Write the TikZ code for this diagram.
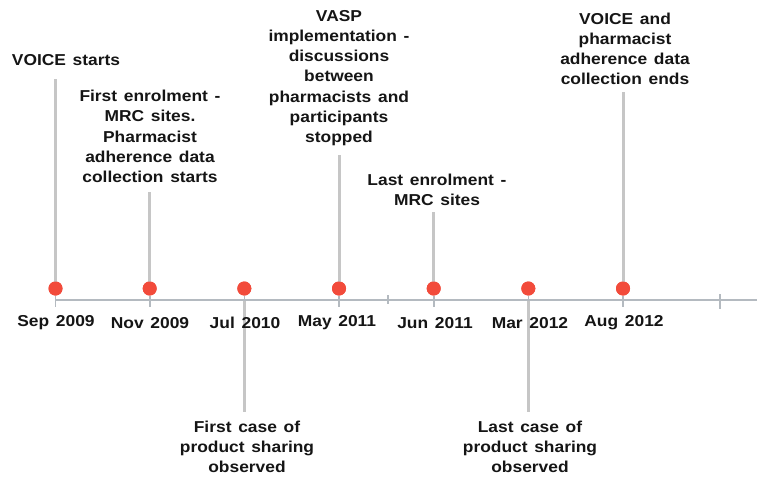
\documentclass[tikz,border=0pt]{standalone}
\usepackage{fontspec}
\setmainfont{Liberation Sans}[FakeStretch=1.1,WordSpace=1.4]
\definecolor{dotred}{HTML}{F24B3B}
\definecolor{stem}{HTML}{C6C6C6}
\definecolor{axisc}{HTML}{B4BAC0}
\definecolor{txt}{HTML}{151515}
\begin{document}
\begin{tikzpicture}[x=1pt,y=-1pt,
  evtext/.style={align=center,inner sep=0pt,text=txt,font=\fontsize{15.8}{20.2}\selectfont\bfseries},
  datetext/.style={inner sep=0pt,text=txt,font=\fontsize{15.8}{20.2}\selectfont\bfseries},
  evdot/.style={circle,fill=dotred,minimum size=14pt,inner sep=0pt},
  stemline/.style={draw=stem,line width=3pt},
  axisline/.style={draw=axisc,line width=1.2pt},
  tickline/.style={draw=axisc,line width=1.6pt}]
\useasboundingbox (0,0) rectangle (757,487);
\fill[white] (0,0) rectangle (757,487);
% axis
\coordinate (ax0) at (55.5,300);
\coordinate (ax1) at (757,300);
\draw[axisline] (ax0) -- (ax1);
% ticks
\foreach \x/\n in {55.5/a,149.7/b,244.3/c,339/d,433.7/e,528.3/f,623/g}{
  \coordinate (tk\n1) at (\x,296);
  \coordinate (tk\n2) at (\x,307);
  \draw[tickline] (tk\n1) -- (tk\n2);
}
\coordinate (mt1) at (388,295); \coordinate (mt2) at (388,304);
\draw[axisline] (mt1) -- (mt2);
\coordinate (et1) at (720,294); \coordinate (et2) at (720,309);
\draw[axisline] (et1) -- (et2);
% stems (top)
\coordinate (s1) at (55.5,79);
\coordinate (s2) at (149.7,192);
\coordinate (s4) at (339,155);
\coordinate (s5) at (433.7,212);
\coordinate (s7) at (623,92);
% stems bottom
\coordinate (b3a) at (244.3,301);
\coordinate (b3) at (244.3,412);
\coordinate (b6a) at (528.3,301);
\coordinate (b6) at (528.3,412);
% dots
\node[evdot] (d1) at (55.5,288.5) {};
\node[evdot] (d2) at (149.7,288.5) {};
\node[evdot] (d3) at (244.3,288.5) {};
\node[evdot] (d4) at (339,288.5) {};
\node[evdot] (d5) at (433.7,288.5) {};
\node[evdot] (d6) at (528.3,288.5) {};
\node[evdot] (d7) at (623,288.5) {};
\draw[stemline] (s1) -- (d1.center);
\draw[stemline] (s2) -- (d2.center);
\draw[stemline] (s4) -- (d4.center);
\draw[stemline] (s5) -- (d5.center);
\draw[stemline] (s7) -- (d7.center);
\draw[stemline] (b3a) -- (b3);
\draw[stemline] (b6a) -- (b6);
% redraw dots over stems
\foreach \n in {d1,d2,d3,d4,d5,d6,d7}{\fill[dotred] (\n.center) circle (7pt);}
% event labels
\node[evtext] (l1) at (66,60) {VOICE starts};
\node[evtext] (l2) at (150,136.5) {First enrolment -\\MRC sites.\\Pharmacist\\adherence data\\collection starts};
\node[evtext] (l4) at (339,78) {VASP\\implementation -\\discussions\\between\\pharmacists and\\participants\\stopped};
\node[evtext] (l5) at (437,190) {Last enrolment -\\MRC sites};
\node[evtext] (l7) at (625,49) {VOICE and\\pharmacist\\adherence data\\collection ends};
\node[evtext] (l3) at (247,447) {First case of\\product sharing\\observed};
\node[evtext] (l6) at (530,447) {Last case of\\product sharing\\observed};
% dates
\node[datetext] (t1) at (56,323) {Sep 2009};
\node[datetext] (t2) at (150,323) {Nov 2009};
\node[datetext] (t3) at (245,323) {Jul 2010};
\node[datetext] (t4) at (337,323) {May 2011};
\node[datetext] (t5) at (435,323) {Jun 2011};
\node[datetext] (t6) at (530,323) {Mar 2012};
\node[datetext] (t7) at (624,323) {Aug 2012};
\end{tikzpicture}
\end{document}
